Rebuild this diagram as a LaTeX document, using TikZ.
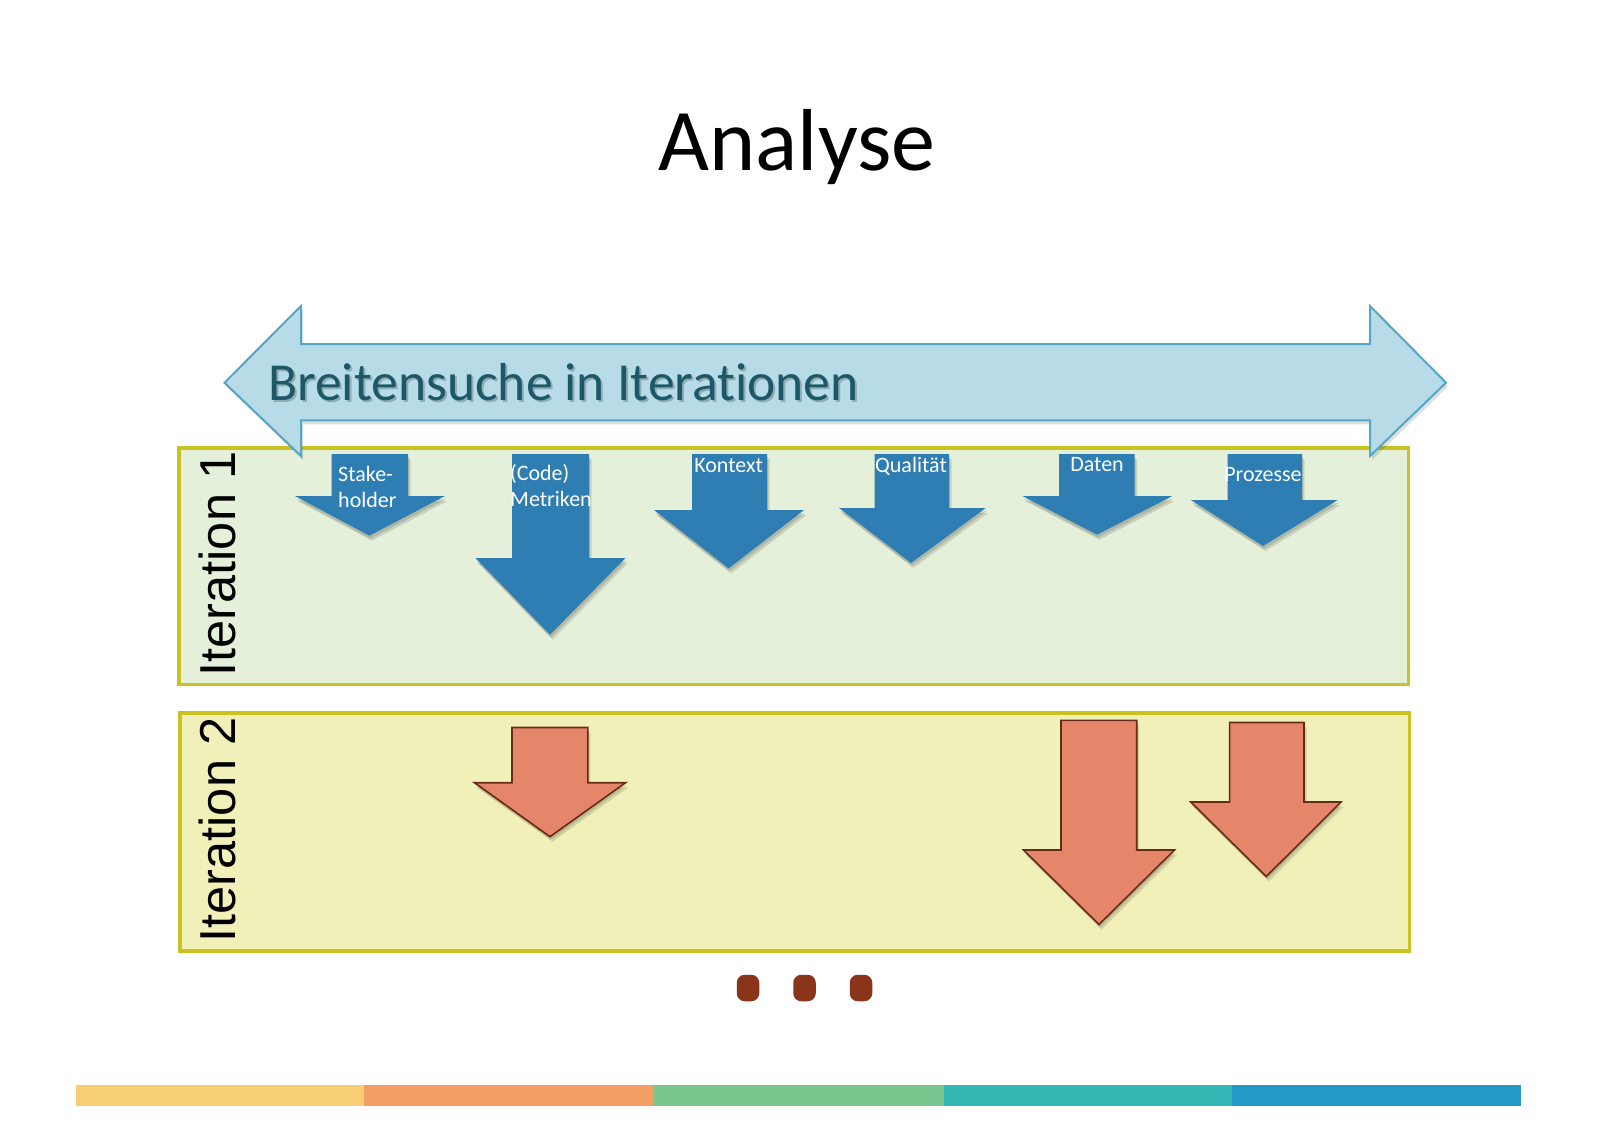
\documentclass[tikz,border=0pt]{standalone}
\usepackage{fontspec}
\setmainfont{Carlito}[Ligatures=NoCommon]
\newfontfamily\iterfont{Liberation Sans}
\definecolor{bigfill}{HTML}{B8DCE7}
\definecolor{bigline}{HTML}{55A7C6}
\definecolor{bigtext}{HTML}{1D5868}
\definecolor{boxline}{HTML}{C9C21F}
\definecolor{boxonefill}{HTML}{E4F0D9}
\definecolor{boxtwofill}{HTML}{F1F0B8}
\definecolor{bluearrow}{HTML}{2E7DB3}
\definecolor{orangearrow}{HTML}{E5866A}
\definecolor{orangeline}{HTML}{6A2A18}
\definecolor{dotcol}{HTML}{8A3519}
\definecolor{barA}{HTML}{F7CE73}
\definecolor{barB}{HTML}{F29E64}
\definecolor{barC}{HTML}{7AC68E}
\definecolor{barD}{HTML}{34B7B4}
\definecolor{barE}{HTML}{2399C6}
\tikzset{
  iterbox/.style={draw=boxline, line width=3.5pt},
  bluest/.style={fill=bluearrow},
  orangest/.style={fill=orangearrow, draw=orangeline, line width=1.6pt, line join=miter},
  shadowst/.style={fill=black, opacity=0.12},
  lbl/.style={text=white, font=\fontsize{22}{26}\selectfont, inner sep=0pt},
  itlbl/.style={font=\iterfont\fontsize{50.5}{56}\selectfont, rotate=90, inner sep=0pt},
  dotst/.style={fill=dotcol, rounded corners=8pt},
}
% #1 style, #2 shaftL, #3 shaftR, #4 top, #5 headY, #6 headL, #7 headR, #8 tipX, #9 tipY
\newcommand\DArrow[9]{%
  \path[shadowst, shift={(1pt,-3pt)}] (#2,#4) -- (#3,#4) -- (#3,#5) -- (#7,#5) -- (#8,#9) -- (#6,#5) -- (#2,#5) -- cycle;
  \path[shadowst, shift={(2.5pt,-5pt)}] (#2,#4) -- (#3,#4) -- (#3,#5) -- (#7,#5) -- (#8,#9) -- (#6,#5) -- (#2,#5) -- cycle;
  \path[#1] (#2,#4) -- (#3,#4) -- (#3,#5) -- (#7,#5) -- (#8,#9) -- (#6,#5) -- (#2,#5) -- cycle;
}
\begin{document}
\begin{tikzpicture}[x=1pt,y=-1pt]
\useasboundingbox[fill=white] (0,0) rectangle (1600,1130);

% title
\node[font=\fontsize{88}{100}\selectfont, anchor=base, inner sep=0pt] (title) at (797,170) {Analyse};

% iteration boxes
\node[iterbox, fill=boxonefill, minimum width=1229.5pt, minimum height=236.5pt, anchor=north west, inner sep=0pt] (boxA) at (177,446) {};
\node[iterbox, fill=boxtwofill, minimum width=1229.5pt, minimum height=238pt, anchor=north west, inner sep=0pt] (boxB) at (178,711) {};

\node[itlbl] (itA) at (217,564) {Iteration 1};
\node[itlbl] (itB) at (217,830) {Iteration 2};

% big double arrow
\path[shadowst, shift={(2pt,-4pt)}] (224.5,382.7) -- (301,306) -- (301,344) -- (1370,344) -- (1370,306) -- (1446,382.7) -- (1370,456) -- (1370,420.4) -- (301,420.4) -- (301,456) -- cycle;
\path[fill=bigfill, draw=bigline, line width=2pt, line join=miter] (224.5,382.7) -- (301,306) -- (301,344) -- (1370,344) -- (1370,306) -- (1446,382.7) -- (1370,456) -- (1370,420.4) -- (301,420.4) -- (301,456) -- cycle;
\node[font=\fontsize{53.5}{60}\selectfont, text=black, opacity=0.22, anchor=base west, inner sep=0pt] at (270,402.5) {Breitensuche in Iterationen};
\node[font=\fontsize{53.5}{60}\selectfont, text=bigtext, anchor=base west, inner sep=0pt] (bigtxt) at (268,400) {Breitensuche in Iterationen};

% blue arrows (iteration 1)
\DArrow{bluest}{331.6}{408}{454}{496}{295}{445}{369.4}{535.7}
\DArrow{bluest}{512}{589}{454}{558}{475.5}{625.5}{550}{634.7}
\DArrow{bluest}{692}{767}{454}{510}{654}{804}{728.6}{568.4}
\DArrow{bluest}{874.5}{949}{454}{508}{839}{985.7}{911}{563}
\DArrow{bluest}{1059}{1134.7}{454}{496}{1022.4}{1172.4}{1097}{534.7}
\DArrow{bluest}{1227.6}{1302}{454}{500}{1190.8}{1337.8}{1263}{546}

\node[lbl, align=left, anchor=north west] (lA) at (338,466) {Stake-\\holder};
\node[lbl, align=left, anchor=north west] (lB) at (510,464) {(Code)\\Metriken};
\node[lbl] (lC) at (728.6,466) {Kontext};
\node[lbl] (lD) at (911,466) {Qualität};
\node[lbl] (lE) at (1097,465) {Daten};
\node[lbl] (lF) at (1263,475) {Prozesse};

% orange arrows (iteration 2)
\DArrow{orangest}{512}{587.8}{727.5}{782.7}{474.5}{625.5}{550}{836.7}
\DArrow{orangest}{1061}{1136.7}{720.4}{850}{1023.5}{1174.5}{1099}{924.5}
\DArrow{orangest}{1229.6}{1304}{722.5}{802}{1190.8}{1341}{1266.3}{876.5}

% dots
\node[dotst, minimum width=22.5pt, minimum height=26.5pt, inner sep=0pt] (d1) at (748,988) {};
\node[dotst, minimum width=22.5pt, minimum height=26.5pt, inner sep=0pt] (d2) at (804.5,988) {};
\node[dotst, minimum width=22.5pt, minimum height=26.5pt, inner sep=0pt] (d3) at (861,988) {};

% bottom bar
\fill[barA] (75.5,1085) rectangle (364.3,1105.5);
\fill[barB] (364.3,1085) rectangle (653,1105.5);
\fill[barC] (653,1085) rectangle (944,1105.5);
\fill[barD] (944,1085) rectangle (1231.6,1105.5);
\fill[barE] (1231.6,1085) rectangle (1521,1105.5);
\end{tikzpicture}
\end{document}
